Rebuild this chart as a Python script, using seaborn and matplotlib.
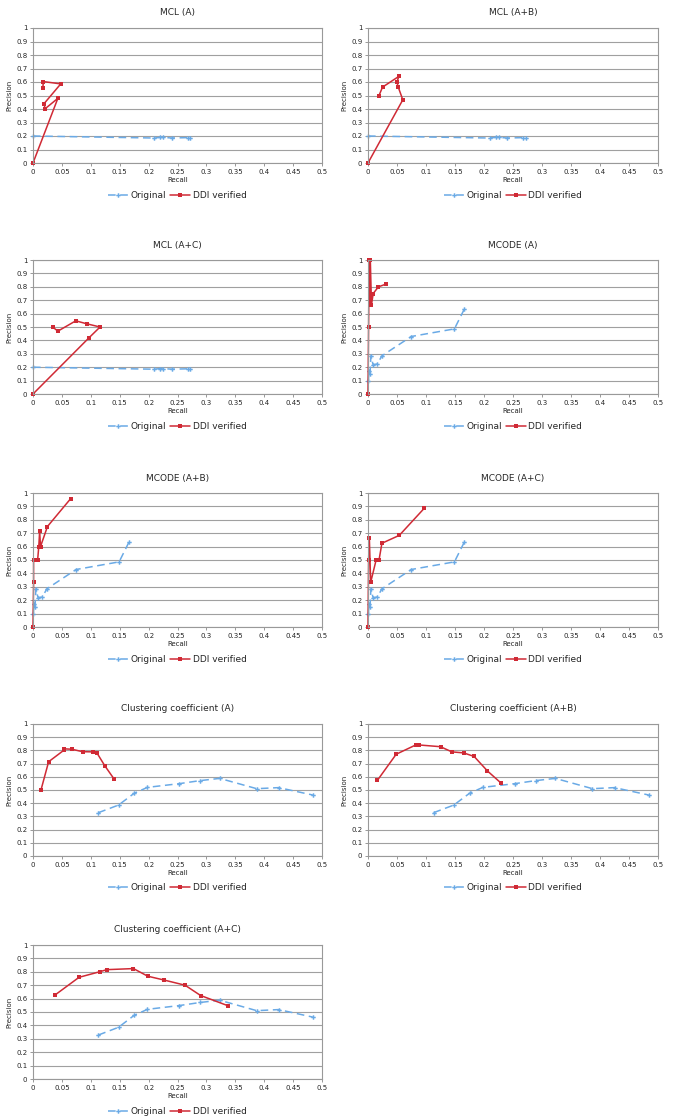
import numpy as np
import pandas as pd
import seaborn as sns
import matplotlib.pyplot as plt

# ---- data ----
mcl_orig_r = [0.0, 0.21, 0.22, 0.225, 0.24, 0.268, 0.272]
mcl_orig_p = [0.20, 0.185, 0.19, 0.19, 0.185, 0.188, 0.186]

mcode_orig_r = [0.166, 0.149, 0.0745, 0.024, 0.016, 0.0087, 0.005, 0.0035, 0.0017, 0.0008]
mcode_orig_p = [0.633, 0.486, 0.429, 0.285, 0.223, 0.22, 0.285, 0.15, 0.17, 0.10]

cc_orig_r = [0.113, 0.148, 0.175, 0.198, 0.253, 0.289, 0.323, 0.387, 0.425, 0.484]
cc_orig_p = [0.328, 0.386, 0.475, 0.520, 0.548, 0.571, 0.588, 0.510, 0.518, 0.462]

mcl_a_r = [0.0, 0.043, 0.021, 0.019, 0.048, 0.018, 0.017]
mcl_a_p = [0.0, 0.479, 0.402, 0.439, 0.586, 0.603, 0.558]

mcl_ab_r = [0.0, 0.060, 0.052, 0.050, 0.053, 0.025, 0.019]
mcl_ab_p = [0.0, 0.468, 0.564, 0.599, 0.641, 0.562, 0.50]

mcl_ac_r = [0.0, 0.097, 0.116, 0.093, 0.074, 0.043, 0.034]
mcl_ac_p = [0.0, 0.42, 0.50, 0.524, 0.546, 0.469, 0.50]

mcode_a_r = [0.0, 0.001, 0.002, 0.003, 0.004, 0.006, 0.009, 0.018, 0.031]
mcode_a_p = [0.0, 0.50, 1.0, 0.667, 1.0, 0.667, 0.75, 0.80, 0.82]

mcode_ab_r = [0.0, 0.001, 0.001, 0.004, 0.008, 0.010, 0.0115, 0.013, 0.025, 0.065]
mcode_ab_p = [0.0, 0.333, 0.50, 0.50, 0.50, 0.60, 0.714, 0.60, 0.75, 0.957]

mcode_ac_r = [0.0, 0.001, 0.0023, 0.0046, 0.014, 0.019, 0.024, 0.054, 0.097]
mcode_ac_p = [0.0, 0.50, 0.667, 0.333, 0.50, 0.50, 0.625, 0.684, 0.886]

cc_a_r = [0.0138, 0.027, 0.053, 0.053, 0.067, 0.086, 0.104, 0.111, 0.124, 0.140]
cc_a_p = [0.50, 0.714, 0.80, 0.812, 0.809, 0.79, 0.789, 0.778, 0.685, 0.585]

cc_ab_r = [0.016, 0.0486, 0.0832, 0.0884, 0.125, 0.1445, 0.165, 0.183, 0.206, 0.230]
cc_ab_p = [0.572, 0.771, 0.843, 0.841, 0.828, 0.789, 0.781, 0.754, 0.644, 0.550]

cc_ac_r = [0.0375, 0.0797, 0.116, 0.1276, 0.1738, 0.1986, 0.2263, 0.263, 0.290, 0.3366]
cc_ac_p = [0.625, 0.759, 0.801, 0.816, 0.824, 0.767, 0.739, 0.70, 0.623, 0.548]

titles = ["MCL (A)", "MCL (A+B)", "MCL (A+C)", "MCODE (A)", "MCODE (A+B)",
          "MCODE (A+C)", "Clustering coefficient (A)", "Clustering coefficient (A+B)",
          "Clustering coefficient (A+C)"]
originals = [(mcl_orig_r, mcl_orig_p)] * 3 + [(mcode_orig_r, mcode_orig_p)] * 3 + \
            [(cc_orig_r, cc_orig_p)] * 3
verified = [(mcl_a_r, mcl_a_p), (mcl_ab_r, mcl_ab_p), (mcl_ac_r, mcl_ac_p),
            (mcode_a_r, mcode_a_p), (mcode_ab_r, mcode_ab_p), (mcode_ac_r, mcode_ac_p),
            (cc_a_r, cc_a_p), (cc_ab_r, cc_ab_p), (cc_ac_r, cc_ac_p)]

xticks = [0, 0.05, 0.1, 0.15, 0.2, 0.25, 0.3, 0.35, 0.4, 0.45, 0.5]
xtick_labels = ["0", "0.05", "0.1", "0.15", "0.2", "0.25", "0.3", "0.35", "0.4", "0.45", "0.5"]
yticks = [0, 0.1, 0.2, 0.3, 0.4, 0.5, 0.6, 0.7, 0.8, 0.9, 1.0]
ytick_labels = ["0", "0.1", "0.2", "0.3", "0.4", "0.5", "0.6", "0.7", "0.8", "0.9", "1"]

sns.set_style("white")
plt.rcParams['font.family'] = ['DejaVu Sans']

blue = "#6aaae6"
red = "#d02a35"
palette = {"Original": blue, "DDI verified": red}

fig = plt.figure(figsize=(6.85, 11.2), dpi=100)
W, H = 685, 1120
rows = [(28, 163), (260, 394), (493, 627), (724, 856), (945, 1079)]
cols = [(33, 322), (368, 658)]

for i, title in enumerate(titles):
    r, c = divmod(i, 2)
    top, bot = rows[r]
    left, right = cols[c]
    ax = fig.add_axes([left / W, 1 - bot / H, (right - left) / W, (bot - top) / H])

    orig = pd.DataFrame({"recall": originals[i][0], "precision": originals[i][1],
                         "series": "Original"})
    ddi = pd.DataFrame({"recall": verified[i][0], "precision": verified[i][1],
                        "series": "DDI verified"})
    df = pd.concat([orig, ddi], ignore_index=True)

    sns.lineplot(data=df, x="recall", y="precision", hue="series", style="series",
                 palette=palette, markers={"Original": "P", "DDI verified": "s"},
                 dashes={"Original": (5, 3), "DDI verified": ""},
                 sort=False, estimator=None, ax=ax, linewidth=1.1,
                 markersize=3.2, markeredgewidth=0, clip_on=False, legend=False)

    ax.set_xlim(0, 0.5)
    ax.set_ylim(0, 1)
    ax.set_xticks(xticks)
    ax.set_xticklabels(xtick_labels)
    ax.set_yticks(yticks)
    ax.set_yticklabels(ytick_labels)
    ax.tick_params(labelsize=5, length=2, width=0.6, color="#888888", pad=2,
                   left=True, bottom=True)
    ax.yaxis.grid(True, color="#a0a0a0", linewidth=0.8)
    ax.set_axisbelow(True)
    for s in ax.spines.values():
        s.set_color("#999999")
        s.set_linewidth(0.8)
    ax.set_xlabel("Recall", fontsize=5, labelpad=2)
    ax.set_ylabel("Precision", fontsize=5, labelpad=3)
    ax.set_title(title, fontsize=6.5, pad=9)

    handles = [plt.Line2D([], [], color=blue, ls=(0, (5, 3)), marker="P", ms=3.2,
                          mew=0, lw=1.1),
               plt.Line2D([], [], color=red, ls="-", marker="s", ms=3.2, mew=0, lw=1.1)]
    ax.legend(handles, ["Original", "DDI verified"], loc="center",
              bbox_to_anchor=(0.5, -0.24), ncol=2, frameon=False, fontsize=6.5,
              handlelength=2.2, columnspacing=0.4, handletextpad=0.3)

fig.savefig("out.png", dpi=100)
